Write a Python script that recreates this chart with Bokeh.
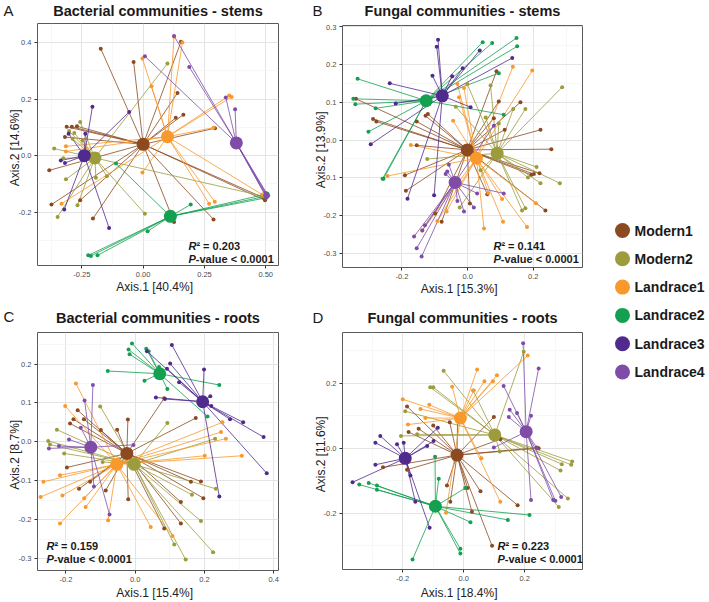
from bokeh.plotting import figure
from bokeh.models import Label, FixedTicker, PrintfTickFormatter, Range1d
from bokeh.layouts import row, column
from bokeh.embed import file_html
from bokeh.resources import INLINE
from bokeh.core.properties import value

groups = ["Modern1", "Modern2", "Landrace1", "Landrace2", "Landrace3", "Landrace4"]
colors = ["#8B4A20", "#9C9C3C", "#F9982B", "#13A050", "#512A8E", "#7F4DA8"]

# ---------------- Panel A : Bacterial communities - stems ----------------
A_centroid_x = [0.0, -0.197, 0.099, 0.111, -0.240, 0.380]
A_centroid_y = [0.040, -0.008, 0.067, -0.215, 0.0, 0.045]
A_Modern1 = [(-0.173, 0.379), (-0.039, 0.332), (0.154, 0.403), (0.140, 0.222), (0.133, 0.134), (0.164, 0.145),
             (0.293, 0.097), (0.497, -0.158), (0.493, -0.150), (0.287, -0.226), (0.126, -0.235), (-0.205, -0.223),
             (-0.257, -0.158), (-0.374, -0.173), (-0.383, -0.052), (-0.312, 0.102), (-0.291, 0.102), (-0.270, 0.104),
             (-0.319, 0.066)]
A_Modern2 = [(0.099, 0.326), (-0.257, 0.119), (-0.302, 0.087), (-0.281, 0.080), (-0.247, 0.054), (-0.288, 0.060),
             (-0.363, 0.025), (-0.326, -0.009), (-0.315, -0.084), (-0.349, -0.217), (-0.268, -0.176), (-0.148, -0.073),
             (-0.193, -0.078), (0.007, -0.206), (0.493, -0.144)]
A_Landrace1 = [(0.126, 0.421), (0.160, 0.401), (-0.003, 0.344), (0.034, 0.246), (0.351, 0.213), (0.361, 0.208),
               (0.287, 0.099), (-0.003, -0.060), (0.269, -0.170), (0.292, -0.163), (0.486, -0.138), (-0.333, -0.170),
               (-0.315, 0.033), (-0.315, 0.015)]
A_Landrace2 = [(-0.111, -0.028), (0.194, -0.173), (0.018, -0.268), (-0.224, -0.353), (-0.213, -0.355), (-0.186, -0.353),
               (0.507, -0.135), (0.510, -0.142), (0.503, -0.149)]
A_Landrace3 = [(-0.207, 0.173), (-0.057, 0.155), (-0.236, 0.078), (-0.304, 0.078), (-0.336, -0.017), (-0.319, -0.026),
               (-0.322, -0.191), (-0.139, -0.256)]
A_Landrace4 = [(0.126, 0.424), (0.007, 0.352), (0.188, 0.314), (0.337, 0.206), (0.375, 0.164), (0.500, -0.132),
               (0.507, -0.138), (0.503, -0.147), (0.505, -0.143), (0.498, -0.140)]

# ---------------- Panel B : Fungal communities - stems ----------------
B_centroid_x = [-0.001, 0.090, 0.027, -0.126, -0.077, -0.038]
B_centroid_y = [-0.026, -0.035, -0.048, 0.104, 0.117, -0.112]
B_Modern1 = [(-0.340, 0.109), (-0.288, 0.056), (-0.278, 0.049), (-0.128, 0.064), (-0.121, 0.069), (-0.155, 0.049),
             (0.088, 0.182), (0.161, 0.100), (0.095, 0.102), (0.080, 0.058), (0.222, 0.027), (0.113, 0.027),
             (0.255, -0.024), (0.202, -0.090), (0.219, -0.088), (0.194, -0.092), (0.237, -0.186), (0.007, -0.168),
             (-0.079, -0.216), (-0.155, -0.014), (-0.191, -0.093), (-0.188, -0.134), (-0.099, -0.194), (0.060, -0.143)]
B_Modern2 = [(0.288, 0.140), (0.070, 0.144), (-0.001, 0.148), (-0.036, 0.088), (0.176, 0.082), (0.139, 0.082),
             (0.055, 0.060), (0.095, 0.044), (0.281, -0.114), (0.222, -0.114), (0.184, -0.099), (0.210, -0.071),
             (0.166, -0.186), (0.176, -0.180), (0.040, -0.080), (-0.123, -0.050), (-0.024, -0.178)]
B_Landrace1 = [(0.138, 0.194), (0.197, 0.184), (-0.031, 0.148), (-0.011, 0.138), (-0.026, 0.113), (-0.044, 0.051),
               (-0.173, -0.013), (-0.244, -0.095), (-0.138, -0.239), (-0.064, -0.189), (0.050, -0.234), (0.108, -0.216),
               (0.181, -0.230), (0.208, -0.167), (0.063, -0.140), (0.105, -0.156), (-0.092, -0.214)]
B_Landrace2 = [(-0.335, 0.162), (-0.348, 0.109), (-0.342, 0.095), (-0.280, 0.084), (-0.302, 0.022), (-0.259, -0.102),
               (-0.256, -0.102), (0.046, 0.259), (0.075, 0.257), (0.149, 0.270), (0.151, 0.248), (0.095, 0.177),
               (0.110, 0.067)]
B_Landrace3 = [(-0.090, 0.265), (-0.094, 0.247), (-0.107, 0.170), (-0.237, 0.150), (-0.219, 0.097), (-0.295, -0.011),
               (0.037, 0.237), (-0.015, 0.190), (-0.047, 0.169), (0.136, 0.217), (-0.183, -0.155), (-0.102, -0.146),
               (0.009, 0.087)]
B_Landrace4 = [(-0.140, -0.308), (-0.155, -0.286), (-0.163, -0.255), (-0.138, -0.239), (-0.130, -0.225), (-0.057, -0.065),
               (-0.062, -0.083), (-0.067, -0.090), (-0.011, -0.189), (0.029, -0.141), (0.110, -0.141), (0.080, 0.038),
               (0.019, -0.178), (-0.031, -0.161)]

# ---------------- Panel C : Bacterial communities - roots ----------------
C_centroid_x = [-0.024, -0.003, -0.053, 0.071, 0.195, -0.128]
C_centroid_y = [-0.030, -0.058, -0.058, 0.175, 0.103, -0.014]
C_Modern1 = [(-0.166, 0.081), (-0.178, 0.058), (-0.188, 0.047), (-0.148, 0.058), (-0.099, 0.030), (-0.052, 0.031),
             (-0.021, 0.057), (0.084, 0.112), (0.175, 0.061), (-0.197, -0.066), (-0.162, -0.121), (-0.130, -0.103),
             (-0.085, -0.125), (-0.020, -0.148), (0.084, -0.223), (0.132, -0.155), (0.161, -0.103), (0.190, -0.102),
             (0.197, -0.145), (0.132, -0.210)]
C_Modern2 = [(-0.101, 0.091), (-0.226, 0.031), (-0.251, 0.002), (-0.246, -0.007), (-0.205, -0.030), (-0.094, -0.052),
             (0.093, 0.048), (0.231, 0.008), (0.233, -0.121), (0.164, -0.136), (0.190, -0.204), (0.113, -0.264),
             (0.146, -0.303), (0.225, -0.284)]
C_Landrace1 = [(-0.171, 0.150), (-0.202, 0.092), (-0.217, -0.086), (-0.265, -0.103), (-0.273, -0.142), (-0.210, -0.138),
               (-0.147, -0.145), (-0.143, -0.168), (-0.217, -0.210), (-0.078, -0.202), (0.045, -0.219), (0.108, -0.242),
               (0.252, 0.050), (0.248, 0.025), (0.262, 0.008), (0.201, -0.036), (0.308, -0.036)]
C_Landrace2 = [(-0.009, 0.253), (-0.019, 0.237), (-0.016, 0.225), (0.032, 0.239), (0.039, 0.233), (-0.079, 0.182),
               (0.027, 0.157), (0.093, 0.136), (0.243, 0.146), (0.209, 0.065), (0.069, 0.192)]
C_Landrace3 = [(0.106, 0.249), (0.034, 0.233), (0.101, 0.201), (0.092, 0.188), (0.127, 0.153), (0.199, 0.186),
               (0.060, 0.114), (0.086, 0.110), (0.217, 0.117), (0.220, 0.092), (0.274, 0.058), (0.312, 0.050),
               (0.371, 0.012), (0.380, -0.081), (0.243, -0.141)]
C_Landrace4 = [(-0.122, 0.146), (-0.146, 0.106), (-0.249, -0.017), (-0.220, -0.011), (-0.191, 0.006), (-0.157, 0.036),
               (-0.119, -0.115), (-0.074, -0.187), (-0.005, -0.008)]

# ---------------- Panel D : Fungal communities - roots ----------------
D_centroid_x = [-0.022, 0.102, -0.011, -0.093, -0.192, 0.205]
D_centroid_y = [-0.021, 0.041, 0.093, -0.179, -0.031, 0.051]
D_Modern1 = [(-0.186, 0.129), (-0.181, 0.050), (-0.148, 0.060), (-0.046, 0.080), (0.099, 0.096), (0.120, 0.028),
             (0.246, 0.000), (0.240, 0.002), (-0.265, -0.059), (-0.186, -0.066), (0.055, -0.133), (0.013, -0.123),
             (0.027, -0.196), (0.093, -0.301), (0.177, -0.176), (-0.055, -0.115), (-0.044, -0.165), (-0.100, 0.070),
             (-0.020, 0.095)]
D_Modern2 = [(-0.066, 0.239), (-0.110, 0.188), (-0.100, 0.188), (0.031, 0.178), (0.197, 0.298), (-0.192, 0.114),
             (-0.206, 0.038), (-0.153, 0.043), (0.356, -0.041), (0.353, -0.051), (0.318, -0.069), (0.322, -0.049),
             (0.342, -0.155), (0.312, -0.181), (0.118, -0.010)]
D_Landrace1 = [(0.044, 0.243), (0.068, 0.207), (0.096, 0.207), (0.109, 0.225), (0.210, 0.286), (-0.038, 0.190),
               (0.033, 0.178), (-0.200, 0.151), (-0.113, 0.134), (-0.142, 0.121), (-0.126, 0.093), (-0.183, 0.073),
               (0.120, -0.165), (-0.058, -0.199), (0.058, -0.031)]
D_Landrace2 = [(-0.343, -0.112), (-0.312, -0.107), (-0.285, -0.115), (-0.285, -0.128), (-0.094, -0.026), (-0.082, -0.094),
               (0.005, -0.123), (0.022, -0.228), (-0.011, -0.310), (-0.011, -0.325), (-0.168, -0.343), (0.145, -0.221),
               (0.216, -0.206)]
D_Landrace3 = [(-0.365, -0.105), (-0.290, 0.017), (-0.274, 0.038), (-0.290, -0.051), (-0.219, 0.012), (-0.197, 0.017),
               (-0.120, 0.007), (-0.099, 0.022), (-0.085, 0.063), (-0.159, -0.165), (-0.175, -0.084), (-0.112, -0.245)]
D_Landrace4 = [(0.195, 0.324), (0.246, 0.246), (0.131, 0.192), (0.151, 0.119), (0.175, 0.109), (0.148, 0.096),
               (0.221, 0.100), (0.221, -0.160), (0.294, -0.160), (0.301, -0.162), (0.320, -0.150), (0.241, 0.000),
               (0.099, 0.002)]

# texts
titles = ["Bacterial communities - stems", "Fungal communities - stems",
          "Bacterial communities - roots", "Fungal communities - roots"]
letters = ["A", "B", "C", "D"]
x_labels = ["Axis.1   [40.4%]", "Axis.1   [15.3%]", "Axis.1   [15.4%]", "Axis.1   [18.4%]"]
y_labels = ["Axis.2   [14.6%]", "Axis.2   [13.9%]", "Axis.2   [8.7%]", "Axis.2   [11.6%]"]
r2_values = ["0.203", "0.141", "0.159", "0.223"]
p_text = "-value < 0.0001"

A_xticks = [-0.25, 0.0, 0.25, 0.5]
A_yticks = [-0.2, 0.0, 0.2, 0.4]
B_xticks = [-0.2, 0.0, 0.2]
B_yticks = [-0.3, -0.2, -0.1, 0.0, 0.1, 0.2, 0.3]
C_xticks = [-0.2, 0.0, 0.2, 0.4]
C_yticks = [-0.3, -0.2, -0.1, 0.0, 0.1, 0.2]
D_xticks = [-0.4, -0.2, 0.0, 0.2]
D_yticks = [-0.2, 0.0, 0.2]

FONT = "Liberation Sans"
INK = "#1A1A1A"


def minors(ticks, lo, hi):
    step = ticks[1] - ticks[0]
    out = []
    t = ticks[0] - step / 2
    while t > lo:
        t -= step
    t += step
    while t < hi:
        out.append(round(t, 4))
        t += step
    return out


def no_align(fig):
    try:
        fig.frame_align = False
    except Exception:
        pass


def lab(p, x, y, text, size, style):
    p.add_layout(Label(x=x, y=y, x_units="screen", y_units="screen", text=text, text_font=FONT,
                       text_font_size=f"{size}px", text_font_style=style, text_align="left",
                       text_baseline="middle", text_color=INK))


def header(i, width, height, letter_pos, title_pos):
    h = figure(width=width, height=height, x_range=Range1d(0, width), y_range=Range1d(height, 0),
               output_backend="svg", toolbar_location=None, title=None,
               x_axis_type=None, y_axis_type=None, min_border=0)
    no_align(h)
    h.grid.visible = False
    h.outline_line_color = None
    h.text(x=[title_pos[0]], y=[title_pos[1]], text=[titles[i]], text_font=value(FONT), text_font_style="bold",
           text_font_size="14.5px", text_align="center", text_baseline="middle", text_color=INK)
    h.text(x=[letter_pos[0]], y=[letter_pos[1]], text=[letters[i]], text_font=value(FONT),
           text_font_style="normal", text_font_size="15px", text_align="left", text_baseline="middle",
           text_color=INK)
    return h


def panel(i, width, height, borders, xr, yr, xt, yt, xfmt, yfmt, cx, cy, sets, r2pos, ystand, xstand):
    bl, br, bt, bb = borders
    p = figure(width=width, height=height, x_range=Range1d(*xr), y_range=Range1d(*yr),
               output_backend="svg", toolbar_location=None, title=None,
               min_border_left=bl, min_border_right=br, min_border_top=bt, min_border_bottom=bb)
    xtk = FixedTicker(ticks=xt, minor_ticks=minors(xt, *xr))
    ytk = FixedTicker(ticks=yt, minor_ticks=minors(yt, *yr))
    p.xaxis.ticker = xtk
    p.yaxis.ticker = ytk
    p.xgrid.ticker = xtk
    p.ygrid.ticker = ytk
    p.xaxis.formatter = PrintfTickFormatter(format=xfmt)
    p.yaxis.formatter = PrintfTickFormatter(format=yfmt)
    p.xaxis.axis_label = x_labels[i]
    p.yaxis.axis_label = y_labels[i]
    for ax in p.axis:
        ax.axis_line_color = None
        ax.major_tick_line_color = "#333333"
        ax.major_tick_out = 3
        ax.major_tick_in = 0
        ax.minor_tick_line_color = None
        ax.major_label_text_font = FONT
        ax.major_label_text_font_size = "7.5px"
        ax.major_label_text_color = "#4D4D4D"
        ax.major_label_standoff = 2
        ax.axis_label_text_font = FONT
        ax.axis_label_text_font_size = "12px"
        ax.axis_label_text_font_style = "normal"
        ax.axis_label_text_color = "#222222"
    p.xaxis.axis_label_standoff = xstand
    p.yaxis.axis_label_standoff = ystand
    for g in (p.xgrid, p.ygrid):
        g.grid_line_color = "#E4E4E4"
        g.grid_line_width = 1
        g.minor_grid_line_color = "#F2F2F2"
        g.minor_grid_line_width = 0.6
    p.outline_line_color = "#5A5A5A"
    p.outline_line_width = 1
    p.background_fill_color = "white"
    p.border_fill_color = "white"

    for gi, pts in enumerate(sets):
        xs = [q[0] for q in pts]
        ys = [q[1] for q in pts]
        p.segment(x0=[cx[gi]] * len(pts), y0=[cy[gi]] * len(pts), x1=xs, y1=ys,
                  line_color=colors[gi], line_width=1, line_alpha=0.8)
    for gi, pts in enumerate(sets):
        p.scatter(x=[q[0] for q in pts], y=[q[1] for q in pts], size=4, fill_color=colors[gi],
                  line_color=None)
    for gi in range(len(groups)):
        p.scatter(x=[cx[gi]], y=[cy[gi]], size=13, fill_color=colors[gi], line_color=None)

    rx, ry = r2pos
    lab(p, rx, ry, "R", 11, "bold italic")
    lab(p, rx + 7.9, ry, "\u00b2 = " + r2_values[i], 11, "bold")
    lab(p, rx, ry - 13, "P", 11, "bold italic")
    lab(p, rx + 7.3, ry - 13, p_text, 11, "bold")
    return p


hA = header(0, 300, 22, (3, 10), (157.5, 10))
pA = panel(0, 300, 278, (37, 22, 1, 35), (-0.431, 0.552), (-0.389, 0.468), A_xticks, A_yticks, "%.2f", "%.1f",
           A_centroid_x, A_centroid_y,
           [A_Modern1, A_Modern2, A_Landrace1, A_Landrace2, A_Landrace3, A_Landrace4], (151, 20), -6, 0)
hC = header(2, 300, 30, (3, 16), (157.5, 17.5))
pC = panel(2, 300, 272, (37, 22, 2, 29), (-0.282, 0.414), (-0.331, 0.281), C_xticks, C_yticks, "%.1f", "%.1f",
           C_centroid_x, C_centroid_y,
           [C_Modern1, C_Modern2, C_Landrace1, C_Landrace2, C_Landrace3, C_Landrace4], (9, 25), -6, 1)

hB = header(1, 290, 24, (12, 9.5), (162, 10.5))
pB = panel(1, 290, 276, (42, 8, 1, 33), (-0.381, 0.350), (-0.337, 0.303), B_xticks, B_yticks, "%.1f", "%.1f",
           B_centroid_x, B_centroid_y,
           [B_Modern1, B_Modern2, B_Landrace1, B_Landrace2, B_Landrace3, B_Landrace4], (151, 22), -7, 0)
hD = header(3, 290, 30, (12, 17), (162, 17.5))
pD = panel(3, 290, 272, (42, 8, 2, 30), (-0.398, 0.390), (-0.374, 0.357), D_xticks, D_yticks, "%.1f", "%.1f",
           D_centroid_x, D_centroid_y,
           [D_Modern1, D_Modern2, D_Landrace1, D_Landrace2, D_Landrace3, D_Landrace4], (155, 24), -7, 2)

# legend panel
pL = figure(width=119, height=602, x_range=Range1d(0, 119), y_range=Range1d(602, 0),
            output_backend="svg", toolbar_location=None, title=None,
            x_axis_type=None, y_axis_type=None, min_border=0)
no_align(pL)
pL.grid.visible = False
pL.outline_line_color = None
leg_y = [230 + 28.3 * k for k in range(len(groups))]
pL.scatter(x=[32] * len(groups), y=leg_y, size=15, fill_color=colors, line_color=None)
pL.text(x=[44] * len(groups), y=leg_y, text=groups, text_font=value(FONT), text_font_style="bold",
        text_font_size="14px", text_baseline="middle", text_color=INK)

layout = row(column(hA, pA, hC, pC), column(hB, pB, hD, pD), pL)
open("out.html", "w").write(file_html(layout, INLINE))
